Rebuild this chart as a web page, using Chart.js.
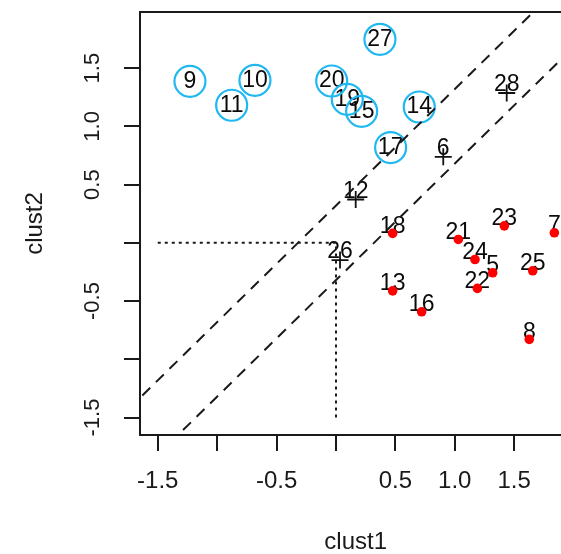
<!DOCTYPE html>
<html><head><meta charset="utf-8">
<script src="https://cdn.jsdelivr.net/npm/chart.js@4/dist/chart.umd.min.js"></script>
<style>
html,body{margin:0;padding:0;background:#fff;overflow:hidden;}
#wrap{width:572px;height:554px;}
</style></head><body>
<div id="wrap"><canvas id="c" width="572" height="554"></canvas></div>
<script>
// ---- data ----
const circleLabels = ['9','10','11','20','19','15','27','14','17'];
const circleX = [-1.229,-0.682,-0.878,-0.036,0.095,0.216,0.370,0.701,0.460];
const circleY = [1.386,1.395,1.181,1.389,1.232,1.129,1.747,1.166,0.818];

const dotLabels = ['18','21','23','7','24','5','25','22','13','16','8'];
const dotX = [0.477,1.030,1.417,1.838,1.170,1.319,1.656,1.190,0.477,0.721,1.627];
const dotY = [0.081,0.029,0.146,0.086,-0.143,-0.257,-0.240,-0.391,-0.412,-0.592,-0.829];

const crossLabels = ['28','6','12','26'];
const crossX = [1.437,0.903,0.166,0.034];
const crossY = [1.286,0.738,0.372,-0.148];

const tickValues = [-1.5,-1,-0.5,0,0.5,1,1.5];
const xTickLabels = ['-1.5','','-0.5','','0.5','1.0','1.5'];
const yTickLabels = ['-1.5','','-0.5','','0.5','1.0','1.5'];
const axisLimits = [-1.6495, 1.9815];
const diagOffsets = [0.32, -0.32];     // reference lines y = x + c
const guideX = [-1.5, 0, 0];
const guideY = [0, 0, -1.5];

// ---- build ----
const FONT = '"Liberation Sans", Arial, Helvetica, sans-serif';
Chart.defaults.font.family = FONT;
const toPts = (xs, ys) => xs.map((x, i) => ({x: x, y: ys[i]}));
const lineEnds = c => [{x: -3, y: -3 + c}, {x: 3, y: 3 + c}];

const labelPlugin = {
  id: 'pointLabels',
  beforeDatasetsDraw(chart) {
    const ctx = chart.ctx, xs = chart.scales.x, ys = chart.scales.y;
    ctx.save();
    ctx.font = '23px ' + FONT;
    ctx.fillStyle = '#0a0a0a';
    ctx.textAlign = 'center';
    ctx.textBaseline = 'middle';
    chart.data.datasets.forEach(ds => {
      if (!ds.pointLabels) return;
      ds.data.forEach((p, i) => {
        ctx.fillText(ds.pointLabels[i], xs.getPixelForValue(p.x), ys.getPixelForValue(p.y) + ds.labelShift);
      });
    });
    ctx.restore();
  }
};
const boxPlugin = {
  id: 'box',
  afterDatasetsDraw(chart) {
    const a = chart.chartArea, ctx = chart.ctx;
    ctx.save();
    ctx.strokeStyle = '#1a1a1a';
    ctx.lineWidth = 2;
    ctx.strokeRect(a.left, a.top, a.right - a.left, a.bottom - a.top);
    ctx.restore();
  }
};

const datasets = [
  {label: 'circles', data: toPts(circleX, circleY), pointLabels: circleLabels, labelShift: 0,
   pointStyle: 'circle', pointRadius: 15.5, pointBorderWidth: 2.2, pointBorderColor: '#1FB8F0',
   pointBackgroundColor: 'rgba(0,0,0,0)', showLine: false, order: 3},
  {label: 'dots', data: toPts(dotX, dotY), pointLabels: dotLabels, labelShift: -7,
   pointStyle: 'circle', pointRadius: 4.8, pointBorderWidth: 0, pointBorderColor: '#ff0000',
   pointBackgroundColor: '#ff0000', showLine: false, order: 2},
  {label: 'crosses', data: toPts(crossX, crossY), pointLabels: crossLabels, labelShift: -8,
   pointStyle: 'cross', pointRadius: 8.5, pointBorderWidth: 1.8, pointBorderColor: '#111',
   showLine: false, order: 4}
];
diagOffsets.forEach(c => datasets.push({
  label: 'diag', data: lineEnds(c), showLine: true, borderColor: '#1a1a1a', borderWidth: 2,
  borderDash: [11, 8], pointRadius: 0, fill: false, order: 1
}));
datasets.push({label: 'guide', data: toPts(guideX, guideY), showLine: true, borderColor: '#1a1a1a',
  borderWidth: 2, borderDash: [3, 4], pointRadius: 0, fill: false, order: 1});

function fixTicks(s) { s.ticks = tickValues.map(v => ({value: v})); }

new Chart(document.getElementById('c'), {
  type: 'scatter',
  data: {datasets: datasets},
  plugins: [labelPlugin, boxPlugin],
  options: {
    responsive: false, animation: false, devicePixelRatio: 1,
    layout: {autoPadding: false, padding: {top: 12, left: 0, right: 0.6, bottom: 0}},
    plugins: {legend: {display: false}, tooltip: {enabled: false}},
    scales: {
      x: {
        type: 'linear', min: axisLimits[0], max: axisLimits[1],
        afterBuildTicks: fixTicks,
        afterFit: s => { s.height = 119; s.paddingLeft = 0; s.paddingRight = 0; },
        border: {display: false},
        grid: {drawOnChartArea: false, drawTicks: true, tickLength: 16, color: '#1a1a1a', lineWidth: 2},
        ticks: {autoSkip: false, maxRotation: 0, minRotation: 0, padding: 15.5, color: '#1a1a1a',
                font: {size: 24},
                callback: v => xTickLabels[tickValues.indexOf(v)]},
        title: {display: true, text: 'clust1', color: '#1a1a1a', font: {size: 24, lineHeight: 1},
                padding: {top: 0, bottom: 0}}
      },
      y: {
        type: 'linear', min: axisLimits[0], max: axisLimits[1],
        afterBuildTicks: fixTicks,
        afterFit: s => { s.width = 140; s.paddingTop = 0; s.paddingBottom = 0; },
        border: {display: false},
        grid: {drawOnChartArea: false, drawTicks: true, tickLength: 16, color: '#1a1a1a', lineWidth: 2},
        ticks: {autoSkip: false, minRotation: 90, maxRotation: 90, crossAlign: 'center', padding: 12,
                color: '#1a1a1a', font: {size: 22},
                callback: v => yTickLabels[tickValues.indexOf(v)]},
        title: {display: true, text: 'clust2', color: '#1a1a1a', font: {size: 24, lineHeight: 1},
                padding: {top: 23.5, bottom: 0}}
      }
    }
  }
});
</script>
</body></html>
